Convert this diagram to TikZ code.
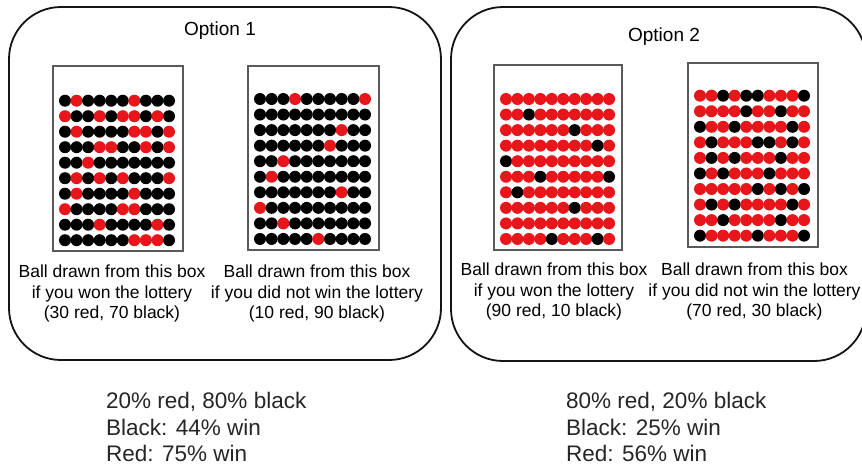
\documentclass[tikz,border=0pt]{standalone}
\usepackage{fontspec}
\setmainfont{Liberation Sans}
\definecolor{colR}{RGB}{232,22,26}
\definecolor{colB}{RGB}{0,0,0}
\definecolor{framegray}{RGB}{90,90,90}
\definecolor{outerline}{RGB}{20,20,20}
\newcommand{\drawgrid}[6]{%
  \foreach \rowlist [count=\ri from 0] in {#6}{%
    \foreach \c [count=\ci from 0] in \rowlist{%
      \fill[fill=col\c] (#1+\ci*#3, #2+\ri*#4) circle[radius=#5];
    }%
  }%
}
\begin{document}
\begin{tikzpicture}[x=1pt,y=-1pt,
  outerbox/.style={draw=outerline,line width=1.8pt,rounded corners=52pt},
  urnbox/.style={draw=framegray,line width=1.3pt},
  title/.style={font=\fontsize{19}{22}\selectfont},
  caption/.style={anchor=north,align=center,inner sep=0pt,font=\fontsize{17.5}{20.5}\selectfont},
  summary/.style={anchor=north west,align=left,inner sep=0pt,font=\fontsize{22.5}{26.5}\selectfont,text=black!85}]
\useasboundingbox (0,0) rectangle (862,467);
\fill[white] (0,0) rectangle (862,467);

% outer option boxes
\draw[outerbox] (9,7) rectangle (441,360);
\draw[outerbox] (451,7) rectangle (866,361);

\node[title] (t1) at (220,31) {Option 1};
\node[title] (t2) at (664,37) {Option 2};

% urn boxes
\draw[urnbox] (53,66) rectangle (183,251);
\draw[urnbox] (248,66) rectangle (379,250);
\draw[urnbox] (494,65) rectangle (622,250);
\draw[urnbox] (688,63) rectangle (818,247);

% grid 1: 30 red, 70 black
\drawgrid{65}{100.7}{11.56}{15.5}{6}{
 {B,R,B,B,B,B,R,B,B,B},
 {R,B,B,R,B,R,R,B,R,B},
 {B,R,B,B,B,B,R,R,B,R},
 {B,B,B,R,R,B,B,R,B,R},
 {B,B,R,B,B,B,B,B,B,B},
 {B,R,B,R,B,R,B,B,B,R},
 {B,R,B,B,B,B,R,B,B,B},
 {R,B,B,B,B,R,R,B,B,B},
 {B,B,B,R,B,B,B,B,R,B},
 {B,B,B,B,B,B,R,R,R,B}}

% grid 2: 10 red, 90 black
\drawgrid{260}{99}{11.67}{15.55}{6}{
 {B,B,B,R,B,B,B,B,B,R},
 {B,B,B,B,B,B,B,B,B,B},
 {B,B,B,B,B,B,B,R,B,B},
 {B,B,B,B,B,B,R,B,B,B},
 {B,B,R,B,B,B,B,B,B,B},
 {B,R,B,B,B,B,B,B,B,B},
 {B,B,B,B,B,B,B,R,B,B},
 {R,B,B,B,B,B,B,B,B,B},
 {B,B,R,B,B,B,B,B,B,B},
 {B,B,B,B,B,R,B,B,B,B}}

% grid 3: 90 red, 10 black
\drawgrid{506}{99}{11.45}{15.55}{6}{
 {R,R,R,R,R,R,R,R,R,R},
 {R,R,B,R,R,R,R,R,R,R},
 {R,R,R,R,R,R,B,R,R,R},
 {R,R,R,R,R,R,R,R,B,R},
 {B,R,R,R,R,R,R,R,R,R},
 {R,R,R,B,R,R,R,R,R,B},
 {R,B,R,R,R,R,R,R,R,R},
 {R,R,R,R,R,R,B,R,R,R},
 {R,R,R,R,R,R,R,R,R,R},
 {R,R,R,R,B,R,R,R,B,R}}

% grid 4: 70 red, 30 black
\drawgrid{700}{95.7}{11.56}{15.55}{6}{
 {R,R,B,R,B,B,R,R,R,B},
 {R,R,R,R,B,R,R,B,R,R},
 {B,R,R,B,R,R,R,R,B,R},
 {R,B,R,R,R,B,B,R,B,R},
 {R,B,R,B,R,R,R,B,R,R},
 {B,R,B,R,R,R,B,R,R,R},
 {R,R,R,R,R,B,R,B,R,B},
 {R,B,R,B,R,R,R,R,B,R},
 {R,R,B,R,R,R,R,B,R,R},
 {B,R,R,R,R,B,R,R,R,B}}

% captions
\node[caption] (c1) at (112,265) {Ball drawn from this box\\if you won the lottery\\(30 red, 70 black)};
\node[caption] (c2) at (317,265) {Ball drawn from this box\\if you did not win the lottery\\(10 red, 90 black)};
\node[caption] (c3) at (554,263) {Ball drawn from this box\\if you won the lottery\\(90 red, 10 black)};
\node[caption] (c4) at (754.5,263) {Ball drawn from this box\\if you did not win the lottery\\(70 red, 30 black)};

% summaries
\node[summary] (s1) at (106,392) {20\% red, 80\% black\\Black: 44\% win\\Red: 75\% win};
\node[summary] (s2) at (566,392) {80\% red, 20\% black\\Black: 25\% win\\Red: 56\% win};
\end{tikzpicture}
\end{document}
